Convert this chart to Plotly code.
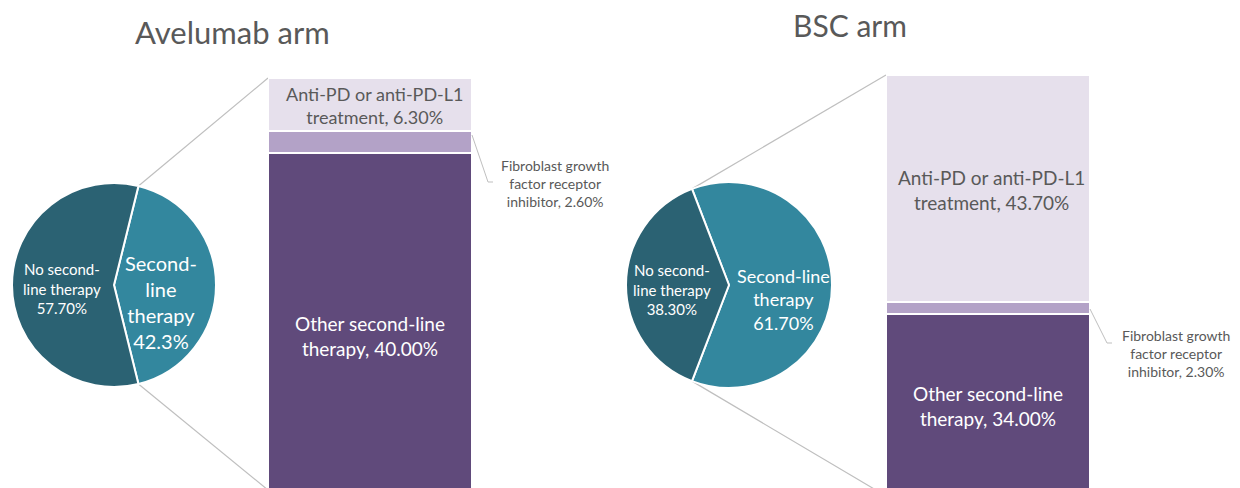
import math
import plotly.graph_objects as go

W, H = 1240, 488

# ---- data -------------------------------------------------------------
arms = ["Avelumab arm", "BSC arm"]

pie_labels = ["Second-line therapy", "No second-line therapy"]
pie_avelumab = [42.3, 57.7]
pie_bsc = [61.7, 38.3]

bar_labels = [
    "Other second-line therapy",
    "Fibroblast growth factor receptor inhibitor",
    "Anti-PD or anti-PD-L1 treatment",
]
bar_avelumab = [40.0, 2.6, 6.3]
bar_bsc = [34.0, 2.3, 43.7]

# ---- styling ----------------------------------------------------------
FONT = "Lato, 'Open Sans', sans-serif"
GREY_TXT = "#595959"
LINE_GREY = "#bfbfbf"
pie_colors = ["#33879e", "#2b6273"]
bar_colors = ["#604a7b", "#b3a2c7", "#e6e0ec"]

# pixel geometry of each pie-of-bar block
geom = [
    dict(cx=114, cy=285, r=102, bx0=268, bx1=472, btop=78, bbot=489, lbot=490),
    dict(cx=729, cy=285, r=103, bx0=886, bx1=1090, btop=75, bbot=491, lbot=496),
]


def px(x):
    return x / W


def py(y):
    return 1 - y / H


def pct(v, d=2):
    return f"{v:.{d}f}%"


fig = go.Figure()
shapes = []
annotations = []

pies = [pie_avelumab, pie_bsc]
bars = [bar_avelumab, bar_bsc]

for k, (g, pv, bv) in enumerate(zip(geom, pies, bars)):
    # pie: "Second-line therapy" slice centred on 3 o'clock, facing the bar
    span = 360 * pv[0] / sum(pv)
    start = 90 - span / 2
    fig.add_trace(go.Pie(
        values=pv, labels=pie_labels, sort=False, direction="clockwise",
        rotation=start, textinfo="none", hoverinfo="label+percent",
        marker=dict(colors=pie_colors, line=dict(color="white", width=2)),
        domain=dict(x=[px(g["cx"] - g["r"]), px(g["cx"] + g["r"])],
                    y=[py(g["cy"] + g["r"]), py(g["cy"] - g["r"])]),
        showlegend=False,
    ))

    # stacked bar breaking down the second-line slice
    xa = "x" if k == 0 else "x2"
    ya = "y" if k == 0 else "y2"
    for lab, v, col in zip(bar_labels, bv, bar_colors):
        fig.add_trace(go.Bar(
            x=[0], y=[v], width=[1], name=lab, xaxis=xa, yaxis=ya,
            marker=dict(color=col, line=dict(color="white", width=2.5)),
            showlegend=False, hovertemplate=lab + ": %{y:.2f}%<extra></extra>",
        ))

    # connector lines from the slice edges to the bar corners
    a0 = math.radians(start)
    a1 = math.radians(start + span)
    p0 = (g["cx"] + g["r"] * math.sin(a0), g["cy"] - g["r"] * math.cos(a0))
    p1 = (g["cx"] + g["r"] * math.sin(a1), g["cy"] - g["r"] * math.cos(a1))
    for (sx, sy), (ex, ey) in [(p0, (g["bx0"], g["btop"])),
                               (p1, (g["bx0"], g["lbot"]))]:
        shapes.append(dict(type="line", xref="paper", yref="paper",
                           x0=px(sx), y0=py(sy), x1=px(ex), y1=py(ey),
                           line=dict(color=LINE_GREY, width=1.2), layer="below"))

# axis scales so each bar starts at its top pixel and runs off the bottom
layout_axes = {}
for k, (g, bv) in enumerate(zip(geom, bars)):
    tot = sum(bv)
    s = (g["bbot"] - g["btop"]) / tot
    y_lo = (g["bbot"] - H) / s
    y_hi = tot + g["btop"] / s
    sx = "" if k == 0 else "2"
    layout_axes[f"xaxis{sx}"] = dict(domain=[px(g["bx0"]), px(g["bx1"])],
                                     range=[-0.5, 0.5], visible=False,
                                     anchor=f"y{sx}", fixedrange=True)
    layout_axes[f"yaxis{sx}"] = dict(domain=[0, 1], range=[y_lo, y_hi],
                                     visible=False, anchor=f"x{sx}",
                                     fixedrange=True)


def note(text, x, y, size, color, xanchor="center"):
    annotations.append(dict(
        text=text, x=px(x), y=py(y), xref="paper", yref="paper",
        xanchor=xanchor, yanchor="middle", showarrow=False, align="center",
        font=dict(family=FONT, size=size, color=color),
    ))


# titles
note(arms[0], 232, 32, 31, GREY_TXT)
note(arms[1], 850, 25, 30, GREY_TXT)

# pie labels
note(f"No second-<br>line therapy<br>{pct(pie_avelumab[1])}", 62, 288, 15, "white")
note(f"Second-<br>line<br>therapy<br>{pct(pie_avelumab[0], 1)}", 161, 302, 20, "white")
note(f"No second-<br>line therapy<br>{pct(pie_bsc[1])}", 672, 289, 15, "white")
note(f"Second-line<br>therapy<br>{pct(pie_bsc[0])}", 783, 299, 18, "white")

# bar labels
note(f"Anti-PD or anti-PD-L1<br>treatment, {pct(bar_avelumab[2])}", 374, 105, 18, GREY_TXT)
note(f"Other second-line<br>therapy, {pct(bar_avelumab[0])}", 370, 336, 19, "white")
note(f"Fibroblast growth<br>factor receptor<br>inhibitor, {pct(bar_avelumab[1])}", 555, 183, 14, GREY_TXT)

note(f"Anti-PD or anti-PD-L1<br>treatment, {pct(bar_bsc[2])}", 991, 190, 19, GREY_TXT)
note(f"Other second-line<br>therapy, {pct(bar_bsc[0])}", 988, 406, 19, "white")
note(f"Fibroblast growth<br>factor receptor<br>inhibitor, {pct(bar_bsc[1])}", 1176, 353, 14, GREY_TXT)

# leader lines for the thin FGFR segments
for pts in [[(472, 135), (488, 182), (493, 182)],
            [(1090, 309), (1107, 343), (1112, 343)]]:
    path = "M " + " L ".join(f"{px(x)},{py(y)}" for x, y in pts)
    shapes.append(dict(type="path", xref="paper", yref="paper", path=path,
                       line=dict(color=LINE_GREY, width=1)))

fig.update_layout(
    width=W, height=H, margin=dict(l=0, r=0, t=0, b=0),
    paper_bgcolor="white", plot_bgcolor="white",
    barmode="stack", bargap=0, showlegend=False,
    shapes=shapes, annotations=annotations, **layout_axes,
)

fig.write_html("out.html")
